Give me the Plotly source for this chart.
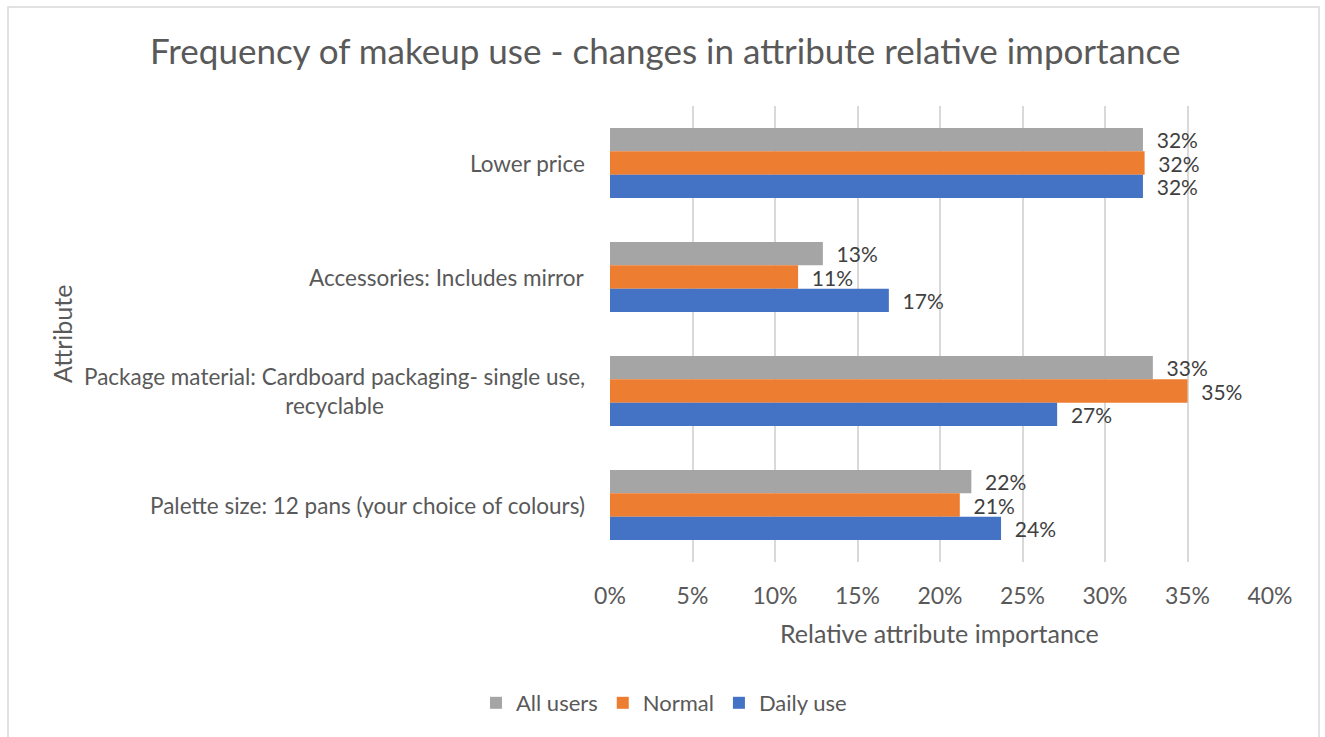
import plotly.graph_objects as go

W, H = 1325, 737

# Attributes, listed top to bottom
attributes = [
    "Lower price",
    "Accessories: Includes mirror",
    "Package material: Cardboard packaging- single use,<br>recyclable",
    "Palette size: 12 pans (your choice of colours)",
]

# Relative attribute importance per user group
all_users = [0.323, 0.129, 0.329, 0.219]
normal = [0.324, 0.114, 0.350, 0.212]
daily_use = [0.323, 0.169, 0.271, 0.237]

series = [
    ("All users", all_users, "#A5A5A5"),
    ("Normal", normal, "#ED7D31"),
    ("Daily use", daily_use, "#4472C4"),
]

x_ticks = [0, 0.05, 0.10, 0.15, 0.20, 0.25, 0.30, 0.35, 0.40]

FONT = "Lato, Calibri, Carlito, sans-serif"
TXT = "#595959"

fig = go.Figure()
for name, vals, color in series:
    fig.add_trace(go.Bar(
        name=name,
        y=attributes,
        x=vals,
        orientation="h",
        marker=dict(color=color, line=dict(width=0)),
        texttemplate="\u00a0\u00a0%{x:.0%}",
        textposition="outside",
        constraintext="none",
        cliponaxis=False,
        textfont=dict(family=FONT, size=21, color="#404040"),
    ))

# Category labels (centred lines, right edge next to the axis)
annotations = []
for a in attributes:
    annotations.append(dict(
        x=587 / W, xref="paper", xanchor="right",
        y=a, yref="y", yanchor="middle",
        text=a, align="center", showarrow=False,
        font=dict(family=FONT, size=22.5, color=TXT),
    ))

# Titles
annotations += [
    dict(x=665 / W, y=1 - 50 / H, xref="paper", yref="paper",
         xanchor="center", yanchor="middle", showarrow=False,
         text="Frequency of makeup use - changes in attribute relative importance",
         font=dict(family=FONT, size=35, color=TXT)),
    dict(x=940 / W, y=1 - 633 / H, xref="paper", yref="paper",
         xanchor="center", yanchor="middle", showarrow=False,
         text="Relative attribute importance",
         font=dict(family=FONT, size=25, color=TXT)),
    dict(x=62 / W, y=1 - 334 / H, xref="paper", yref="paper",
         xanchor="center", yanchor="middle", showarrow=False, textangle=-90,
         text="Attribute",
         font=dict(family=FONT, size=25, color=TXT)),
]

fig.update_layout(
    width=W, height=H,
    margin=dict(l=0, r=0, t=0, b=0, autoexpand=False),
    paper_bgcolor="white", plot_bgcolor="white",
    barmode="group", bargap=0.386, bargroupgap=0,
    annotations=annotations,
    showlegend=True,
    legend=dict(
        orientation="h", x=664 / W, xanchor="center",
        y=1 - 703 / H, yanchor="middle",
        font=dict(family=FONT, size=22, color=TXT),
        itemwidth=30, traceorder="normal",
    ),
    xaxis=dict(
        domain=[610 / W, 1270 / W],
        range=[0, 0.40], tickvals=x_ticks, tickformat=".0%",
        showgrid=True, gridcolor="#D9D9D9", gridwidth=1.5,
        zeroline=False, showline=False, ticks="",
        tickfont=dict(family=FONT, size=23, color=TXT),
        ticklabelstandoff=18, automargin=False,
    ),
    yaxis=dict(
        domain=[1 - 562 / H, 1 - 106 / H],
        autorange="reversed", showticklabels=False, automargin=False,
        showgrid=False, zeroline=False, showline=False, ticks="",
    ),
    shapes=[dict(
        type="rect", xref="paper", yref="paper",
        x0=8 / W, x1=1319 / W, y0=-0.02, y1=1 - 7 / H,
        line=dict(color="#D9D9D9", width=1.5), fillcolor="rgba(0,0,0,0)",
        layer="below",
    )],
)

fig.write_html("out.html")
